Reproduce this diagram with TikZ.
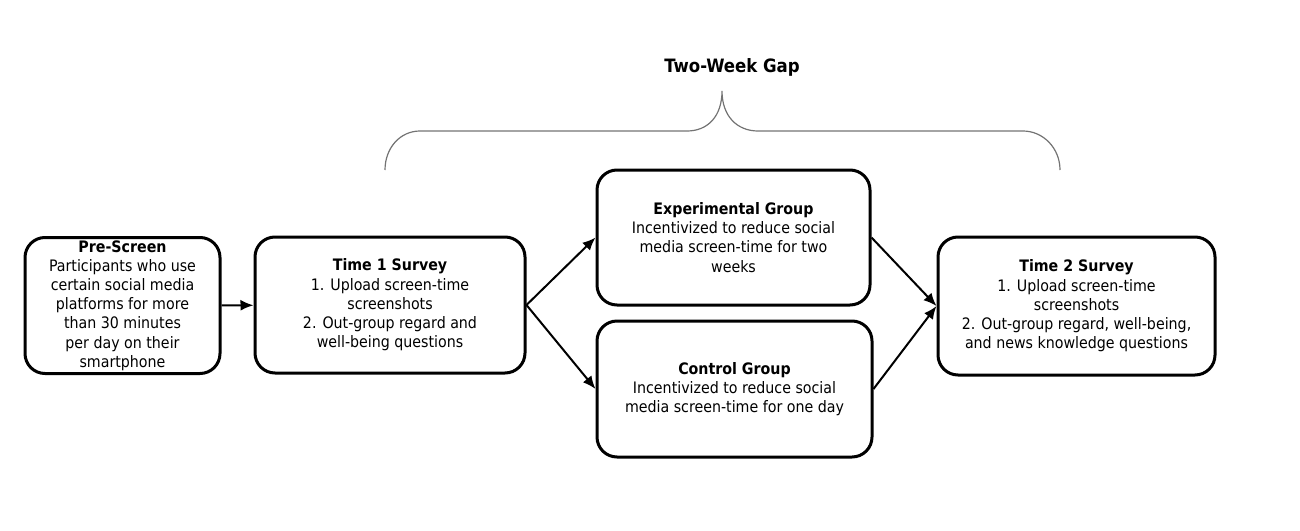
\documentclass[tikz,border=0pt]{standalone}
\usepackage{fontspec}
\setmainfont{DejaVu Sans Condensed}
\usetikzlibrary{arrows.meta,positioning,calc}
\tikzset{
    stage/.style={draw, line width=1.5pt, rounded corners=10pt, align=center, inner sep=1pt,
        font=\fontsize{7.9}{9.6}\selectfont},
    flow/.style={-{Latex[length=6.5pt, width=5.5pt]}, line width=1pt},
    gap/.style={draw=black!55, line width=0.6pt}
}

\begin{document}
\begin{tikzpicture}[x=0.5pt, y=-0.5pt]
    \useasboundingbox (0,0) rectangle (1300,530);
    \node[stage, minimum width=97.5pt, minimum height=68pt] (pre) at (122.5,305.5)
        {\textbf{Pre-Screen}\\Participants who use\\certain social media\\platforms for more\\than 30 minutes\\per day on their\\smartphone};
    \node[stage, minimum width=135pt, minimum height=68pt] (t1) at (390,305)
        {\textbf{Time 1 Survey}\\1. Upload screen-time\\screenshots\\2. Out-group regard and\\well-being questions};
    \node[stage, minimum width=136.5pt, minimum height=67.5pt] (exp) at (733.5,237.5)
        {\textbf{Experimental Group}\\Incentivized to reduce social\\media screen-time for two\\weeks};
    \node[stage, minimum width=137.5pt, minimum height=68pt] (ctrl) at (734.5,389)
        {\textbf{Control Group}\\Incentivized to reduce social\\media screen-time for one day};
    \node[stage, minimum width=138.5pt, minimum height=69pt] (t2) at (1076.5,306)
        {\textbf{Time 2 Survey}\\1. Upload screen-time\\screenshots\\2. Out-group regard, well-being,\\and news knowledge questions};

    \draw[flow] (pre) -- (t1);
    \draw[flow] (t1.east) -- (exp.west);
    \draw[flow] (t1.east) -- (ctrl.west);
    \draw[flow] (exp.east) -- (t2.west);
    \draw[flow] (ctrl.east) -- (t2.west);

    \coordinate (gapL) at (385,170);
    \coordinate (gapTip) at (722,91);
    \coordinate (gapR) at (1060,170);
    \draw[gap] (gapL) .. controls (385,148) and (400,131) .. (420,131) -- (687,131)
        .. controls (708,131) and (722,116) .. (gapTip)
        .. controls (722,116) and (737,131) .. (758,131) -- (1023,131)
        .. controls (1043,131) and (1060,148) .. (gapR);
    \node[font=\bfseries\fontsize{9.2}{10}\selectfont] (gaplabel) at (732,67) {Two-Week Gap};
\end{tikzpicture}
\end{document}
